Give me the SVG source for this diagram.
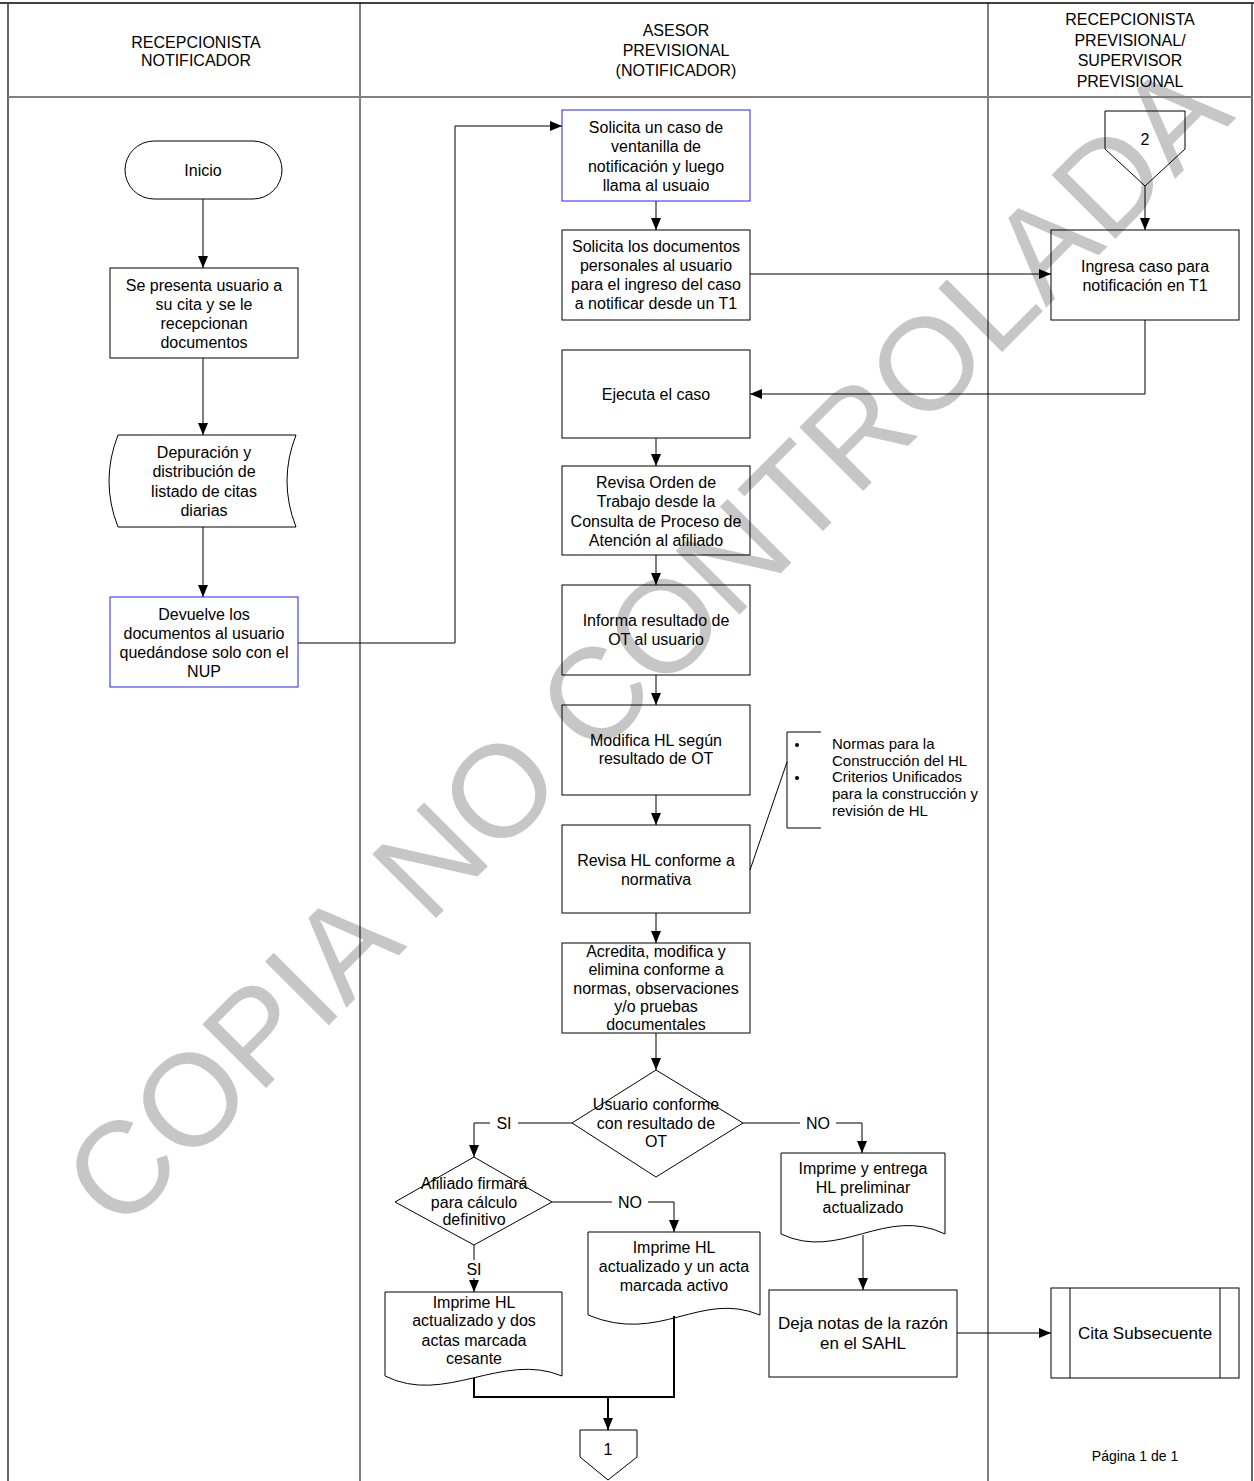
<svg xmlns="http://www.w3.org/2000/svg" width="1254" height="1481" viewBox="0 0 1254 1481">
<style>
text{font-family:"Liberation Sans",Arial,sans-serif;fill:#000}
.t{font-size:16px;text-anchor:middle}
.h{font-size:16px;text-anchor:middle}
.n{font-size:15px}
.s{fill:none;stroke:#000;stroke-width:1}
.b{fill:none;stroke:#2020ff;stroke-width:1}
.c{fill:none;stroke:#000;stroke-width:1}
.k{fill:none;stroke:#000;stroke-width:2}
.wm{font-size:131px;fill:#c6c6c6;text-anchor:middle}
</style>
<defs>
<marker id="ar" viewBox="0 0 12 10" refX="12" refY="5" markerWidth="12" markerHeight="10" markerUnits="userSpaceOnUse" orient="auto"><path d="M0,0L12,5L0,10Z" fill="#000"/></marker>
</defs>
<rect width="1254" height="1481" fill="#fff"/>
<g id="watermark"><text class="wm" transform="translate(678,676) rotate(-45)">COPIA NO CONTROLADA</text></g>
<g id="frame">
<line x1="0" y1="3" x2="1254" y2="3" stroke="#000" stroke-width="1.5"/>
<line x1="8" y1="3" x2="8" y2="1481" stroke="#333" stroke-width="1.5"/>
<line x1="1252" y1="3" x2="1252" y2="1481" stroke="#333" stroke-width="1.5"/>
<line x1="360" y1="3" x2="360" y2="1481" stroke="#000" stroke-width="1"/>
<line x1="988" y1="3" x2="988" y2="1481" stroke="#000" stroke-width="1"/>
<line x1="8" y1="97" x2="1252" y2="97" stroke="#808080" stroke-width="2"/>
<text class="h" x="196" y="48">RECEPCIONISTA</text>
<text class="h" x="196" y="66">NOTIFICADOR</text>
<text class="h" x="676" y="36">ASESOR</text>
<text class="h" x="676" y="56">PREVISIONAL</text>
<text class="h" x="676" y="76">(NOTIFICADOR)</text>
<text class="h" x="1130" y="25">RECEPCIONISTA</text>
<text class="h" x="1130" y="46">PREVISIONAL/</text>
<text class="h" x="1130" y="66">SUPERVISOR</text>
<text class="h" x="1130" y="87">PREVISIONAL</text>
</g>
<g id="connectors">
<path class="c" d="M203,199V268" marker-end="url(#ar)"/>
<path class="c" d="M203,358V435" marker-end="url(#ar)"/>
<path class="c" d="M203,527V597" marker-end="url(#ar)"/>
<path class="c" d="M298,643H455V126H562" marker-end="url(#ar)"/>
<path class="c" d="M656,201V230" marker-end="url(#ar)"/>
<path class="c" d="M750,274H1051" marker-end="url(#ar)"/>
<path class="c" d="M1145,186V230" marker-end="url(#ar)"/>
<path class="c" d="M1145,320V394H750" marker-end="url(#ar)"/>
<path class="c" d="M656,438V466" marker-end="url(#ar)"/>
<path class="c" d="M656,555V585" marker-end="url(#ar)"/>
<path class="c" d="M656,675V705" marker-end="url(#ar)"/>
<path class="c" d="M656,795V825" marker-end="url(#ar)"/>
<path class="c" d="M656,913V943" marker-end="url(#ar)"/>
<path class="c" d="M656,1033V1070" marker-end="url(#ar)"/>
<path class="c" d="M572,1123H474V1157" marker-end="url(#ar)"/>
<path class="c" d="M743,1123H862V1153" marker-end="url(#ar)"/>
<path class="c" d="M552,1202H674V1232" marker-end="url(#ar)"/>
<path class="c" d="M474,1245V1292" marker-end="url(#ar)"/>
<path class="c" d="M863,1235V1290" marker-end="url(#ar)"/>
<path class="c" d="M957,1333H1051" marker-end="url(#ar)"/>
<path class="k" d="M474,1378V1397H674V1316"/>
<path class="k" d="M608,1397V1430" marker-end="url(#ar)"/>
<path class="c" d="M750,870L787,762"/>
<rect x="490" y="1114" width="28" height="18" fill="#fff"/>
<text class="t" x="504" y="1129">SI</text>
<rect x="800" y="1114" width="36" height="18" fill="#fff"/>
<text class="t" x="818" y="1129">NO</text>
<rect x="612" y="1193" width="36" height="18" fill="#fff"/>
<text class="t" x="630" y="1208">NO</text>
<rect x="462" y="1260" width="24" height="18" fill="#fff"/>
<text class="t" x="474" y="1275">SI</text>
</g>
<g id="inicio">
<rect class="s" x="125" y="141" width="157" height="58" rx="29"/>
<text class="t" x="203" y="176">Inicio</text>
</g>
<g id="se-presenta">
<rect class="s" x="110" y="268" width="188" height="90"/>
<text class="t" x="204" y="291">Se presenta usuario a</text>
<text class="t" x="204" y="310">su cita y se le</text>
<text class="t" x="204" y="329">recepcionan</text>
<text class="t" x="204" y="348">documentos</text>
</g>
<g id="depuracion">
<path class="s" d="M118,435H296Q278,481 296,527H118Q100,481 118,435Z"/>
<text class="t" x="204" y="458">Depuración y</text>
<text class="t" x="204" y="477">distribución de</text>
<text class="t" x="204" y="497">listado de citas</text>
<text class="t" x="204" y="516">diarias</text>
</g>
<g id="devuelve">
<rect class="b" x="110" y="597" width="188" height="90"/>
<text class="t" x="204" y="620">Devuelve los</text>
<text class="t" x="204" y="639">documentos al usuario</text>
<text class="t" x="204" y="658">quedándose solo con el</text>
<text class="t" x="204" y="677">NUP</text>
</g>
<g id="solicita-caso">
<rect class="b" x="562" y="110" width="188" height="91"/>
<text class="t" x="656" y="133">Solicita un caso de</text>
<text class="t" x="656" y="152">ventanilla de</text>
<text class="t" x="656" y="172">notificación y luego</text>
<text class="t" x="656" y="191">llama al usuaio</text>
</g>
<g id="solicita-docs">
<rect class="s" x="562" y="230" width="188" height="90"/>
<text class="t" x="656" y="252">Solicita los documentos</text>
<text class="t" x="656" y="271">personales al usuario</text>
<text class="t" x="656" y="290">para el ingreso del caso</text>
<text class="t" x="656" y="309">a notificar desde un T1</text>
</g>
<g id="ejecuta">
<rect class="s" x="562" y="350" width="188" height="88"/>
<text class="t" x="656" y="400">Ejecuta el caso</text>
</g>
<g id="revisa-orden">
<rect class="s" x="562" y="466" width="188" height="89"/>
<text class="t" x="656" y="488">Revisa Orden de</text>
<text class="t" x="656" y="507">Trabajo desde la</text>
<text class="t" x="656" y="527">Consulta de Proceso de</text>
<text class="t" x="656" y="546">Atención al afiliado</text>
</g>
<g id="informa">
<rect class="s" x="562" y="585" width="188" height="90"/>
<text class="t" x="656" y="626">Informa resultado de</text>
<text class="t" x="656" y="645">OT al usuario</text>
</g>
<g id="modifica">
<rect class="s" x="562" y="705" width="188" height="90"/>
<text class="t" x="656" y="746">Modifica HL según</text>
<text class="t" x="656" y="764">resultado de OT</text>
</g>
<g id="revisa-hl">
<rect class="s" x="562" y="825" width="188" height="88"/>
<text class="t" x="656" y="866">Revisa HL conforme a</text>
<text class="t" x="656" y="885">normativa</text>
</g>
<g id="nota">
<path class="s" d="M821,732H787V828H821"/>
<circle cx="797" cy="745" r="2"/>
<circle cx="797" cy="778" r="2"/>
<text class="n" x="832" y="749">Normas para la</text>
<text class="n" x="832" y="766">Construcción del HL</text>
<text class="n" x="832" y="782">Criterios Unificados</text>
<text class="n" x="832" y="799">para la construcción y</text>
<text class="n" x="832" y="816">revisión de HL</text>
</g>
<g id="acredita">
<rect class="s" x="562" y="943" width="188" height="90"/>
<text class="t" x="656" y="957">Acredita, modifica y</text>
<text class="t" x="656" y="975">elimina conforme a</text>
<text class="t" x="656" y="994">normas, observaciones</text>
<text class="t" x="656" y="1012">y/o pruebas</text>
<text class="t" x="656" y="1030">documentales</text>
</g>
<g id="usuario-conforme">
<path class="s" d="M656,1070L743,1123L656,1177L572,1123Z"/>
<text class="t" x="656" y="1110">Usuario conforme</text>
<text class="t" x="656" y="1129">con resultado de</text>
<text class="t" x="656" y="1147">OT</text>
</g>
<g id="afiliado-firmara">
<path class="s" d="M474,1157L552,1202L474,1245L395,1202Z"/>
<text class="t" x="474" y="1189">Afiliado firmará</text>
<text class="t" x="474" y="1208">para cálculo</text>
<text class="t" x="474" y="1225">definitivo</text>
</g>
<g id="imprime-activo">
<path class="s" d="M588,1232H760V1315C700,1290 660,1345 588,1315Z"/>
<text class="t" x="674" y="1253">Imprime HL</text>
<text class="t" x="674" y="1272">actualizado y un acta</text>
<text class="t" x="674" y="1291">marcada activo</text>
</g>
<g id="imprime-cesante">
<path class="s" d="M385,1292H562V1376C502,1351 445,1406 385,1376Z"/>
<text class="t" x="474" y="1308">Imprime HL</text>
<text class="t" x="474" y="1326">actualizado  y dos</text>
<text class="t" x="474" y="1346">actas marcada</text>
<text class="t" x="474" y="1364">cesante</text>
</g>
<g id="imprime-preliminar">
<path class="s" d="M781,1153H945V1234C885,1205 840,1262 781,1234Z"/>
<text class="t" x="863" y="1174">Imprime y entrega</text>
<text class="t" x="863" y="1193">HL preliminar</text>
<text class="t" x="863" y="1213">actualizado</text>
</g>
<g id="deja-notas">
<rect class="s" x="769" y="1290" width="188" height="87"/>
<text class="t" x="863" y="1329" style="font-size:17px">Deja notas de la razón</text>
<text class="t" x="863" y="1349" style="font-size:17px">en el SAHL</text>
</g>
<g id="cita-subsecuente">
<rect class="s" x="1051" y="1288" width="188" height="90"/>
<line class="s" x1="1070" y1="1288" x2="1070" y2="1378"/>
<line class="s" x1="1220" y1="1288" x2="1220" y2="1378"/>
<text class="t" x="1145" y="1339" style="font-size:17px">Cita Subsecuente</text>
</g>
<g id="conector-2">
<path class="s" d="M1105,111H1185V149L1145,186L1105,149Z"/>
<text class="t" x="1145" y="145">2</text>
</g>
<g id="ingresa">
<rect class="s" x="1051" y="230" width="188" height="90"/>
<text class="t" x="1145" y="272">Ingresa caso para</text>
<text class="t" x="1145" y="291">notificación en T1</text>
</g>
<g id="conector-1">
<path class="s" d="M580,1430H637V1457L608,1480L580,1457Z"/>
<text class="t" x="608" y="1455">1</text>
</g>
<g id="pagina">
<text class="t" x="1135" y="1461" style="font-size:14px">Página 1 de 1</text>
</g>
</svg>
